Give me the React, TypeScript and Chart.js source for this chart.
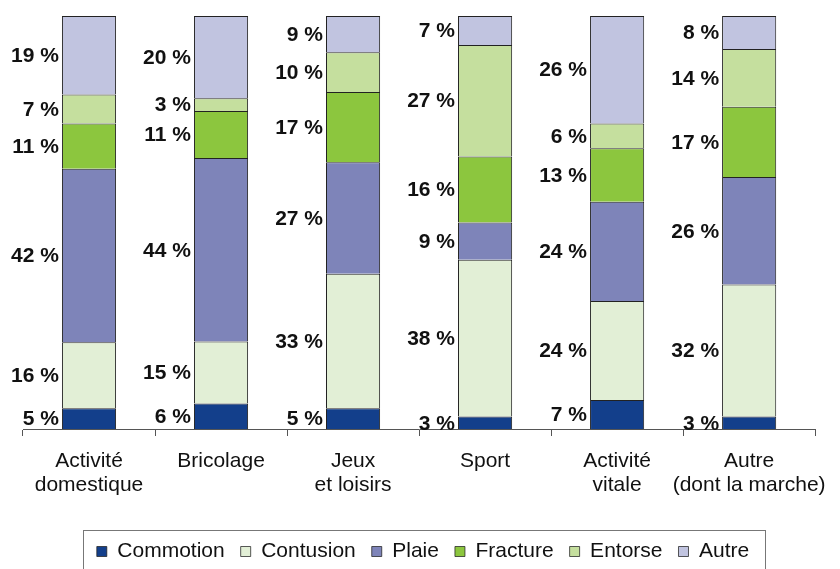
import React, { useEffect, useRef } from "react";
import { Chart, registerables } from "chart.js";

Chart.register(...registerables);

const categories: string[][] = [
  ["Activité", "domestique"],
  ["Bricolage"],
  ["Jeux", "et loisirs"],
  ["Sport"],
  ["Activité", "vitale"],
  ["Autre", "(dont la marche)"],
];

const commotion = [5, 6.2, 5, 3, 7, 3];
const contusion = [16, 15, 32.6, 38, 24, 32];
const plaie = [42, 44.4, 27, 9, 24, 26];
const fracture = [11, 11.4, 17, 16, 13, 17];
const entorse = [7, 3.1, 9.6, 27, 6, 14];
const autre = [19, 19.9, 8.8, 7, 26, 8];

const seriesNames = ["Commotion", "Contusion", "Plaie", "Fracture", "Entorse", "Autre"];
const seriesValues = [commotion, contusion, plaie, fracture, entorse, autre];
const seriesColors = ["#133F8B", "#E2EFD6", "#7E84B9", "#8CC63E", "#C5DF9E", "#C1C4E0"];

const FONT = '"Liberation Sans", Arial, Helvetica, sans-serif';

export default function App() {
  const ref = useRef<HTMLCanvasElement>(null);

  useEffect(() => {
    document.documentElement.style.overflow = "hidden";
    document.body.style.margin = "0";
    document.body.style.overflow = "hidden";
    const canvas = ref.current;
    if (!canvas) return;

    const labelPlugin = {
      id: "segLabels",
      afterDatasetsDraw(chart: any) {
        const c = chart.ctx;
        c.save();
        c.font = `bold 21px ${FONT}`;
        c.fillStyle = "#111";
        c.textAlign = "right";
        c.textBaseline = "middle";
        chart.data.datasets.forEach((ds: any, di: number) => {
          const meta = chart.getDatasetMeta(di);
          meta.data.forEach((el: any, i: number) => {
            const v = ds.data[i] as number;
            const { x, y, base, width } = el.getProps(["x", "y", "base", "width"], true);
            c.fillText(Math.round(v) + " %", x - width / 2 - 3, (y + base) / 2 + 1);
          });
        });
        c.restore();
      },
    };

    const legendBoxPlugin = {
      id: "legendBox",
      afterDraw(chart: any) {
        const lg = chart.legend;
        const hb = lg && lg.legendHitBoxes;
        if (!hb || !hb.length) return;
        const first = hb[0];
        const last = hb[hb.length - 1];
        const left = Math.round(first.left - 14);
        const right = Math.round(last.left + last.width + 16);
        const cy = first.top + first.height / 2;
        const c = chart.ctx;
        c.save();
        c.strokeStyle = "#777";
        c.lineWidth = 1;
        c.strokeRect(left + 0.5, Math.round(cy - 22) + 0.5, right - left, 60);
        c.restore();
      },
    };

    const chart = new Chart(canvas, {
      type: "bar",
      data: {
        labels: categories,
        datasets: seriesNames.map((name, i) => ({
          label: name,
          data: seriesValues[i],
          backgroundColor: seriesColors[i],
          borderColor: "#222",
          borderWidth: { top: 1, left: 1, right: 1, bottom: 0 },
          borderSkipped: false,
          barPercentage: 1,
          categoryPercentage: 0.41,
        })),
      },
      options: {
        responsive: false,
        animation: false,
        layout: { padding: { left: 23, right: 17, top: 16, bottom: 0 } },
        plugins: {
          tooltip: { enabled: false },
          legend: {
            position: "bottom",
            labels: {
              boxWidth: 10,
              boxHeight: 10,
              padding: 16,
              color: "#111",
              font: { family: FONT, size: 21 },
            },
          },
        },
        scales: {
          x: {
            stacked: true,
            offset: true,
            grid: {
              offset: true,
              drawOnChartArea: false,
              drawTicks: true,
              tickLength: 7,
              color: "#555",
            },
            border: { display: true, color: "#555", width: 1 },
            ticks: {
              color: "#111",
              padding: 13,
              maxRotation: 0,
              autoSkip: false,
              font: { family: FONT, size: 21, lineHeight: 1.15 },
            },
            afterFit: (scale: any) => {
              scale.height = 96;
            },
          },
          y: {
            stacked: true,
            display: false,
            min: 0,
            max: 100,
          },
        },
      },
      plugins: [labelPlugin, legendBoxPlugin],
    } as any);

    return () => chart.destroy();
  }, []);

  return (
    <div style={{ position: "fixed", left: 0, top: 0, width: 840, height: 572, overflow: "hidden", background: "#fff" }}>
      <canvas ref={ref} width={840} height={572} style={{ display: "block", width: 840, height: 572 }} />
    </div>
  );
}
